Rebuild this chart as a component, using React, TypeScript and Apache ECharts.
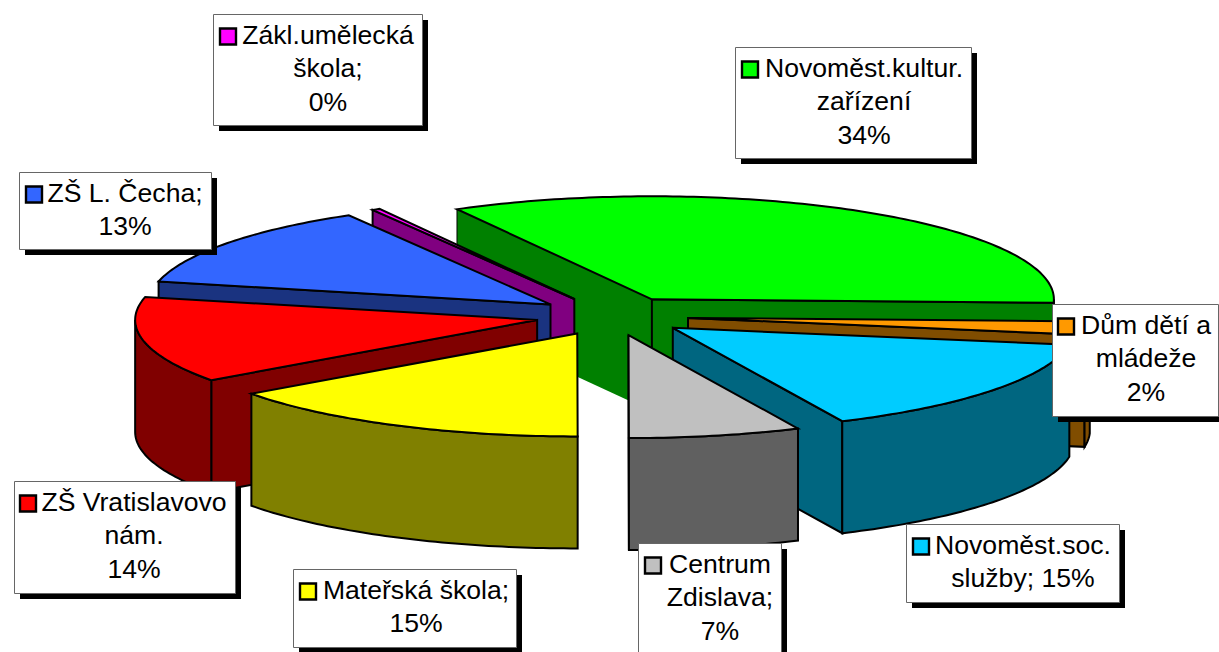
import React, { useEffect, useRef } from "react";
import * as echarts from "echarts";

const names = ["Novoměst.kultur.", "Dům dětí a mládeže", "Novoměst.soc. služby", "Centrum Zdislava", "Mateřská škola", "ZŠ Vratislavovo nám.", "ZŠ L. Čecha", "Zákl.umělecká škola"];
const values = [33.6, 2.08, 15.45, 6.91, 15.06, 13.53, 13.06, 0.31];
const topColors = ["#00FF00", "#FF9900", "#00CCFF", "#C0C0C0", "#FFFF00", "#FF0000", "#3366FF", "#FF00FF"];
const sideColors = ["#008000", "#804D00", "#006680", "#606060", "#808000", "#800000", "#1A3380", "#800080"];
const labelTexts = [
  "Novoměst.kultur.\nzařízení\n34%",
  "Dům dětí a\nmládeže\n2%",
  "Novoměst.soc.\nslužby; 15%",
  "Centrum\nZdislava;\n7%",
  "Mateřská škola;\n15%",
  "ZŠ Vratislavovo\nnám.\n14%",
  "ZŠ L. Čecha;\n13%",
  "Zákl.umělecká\nškola;\n0%",
];
// Painter's order of the slices, back to front
const drawOrder = [0, 1, 2, 7, 6, 5, 4, 3];
// box x, y, w, h, text centre x, swatch x
const labelBoxes = [
  [735, 47, 236, 111, 864, 741],
  [1052, 304, 166, 112, 1146, 1057],
  [906, 524, 213, 78, 1023, 912],
  [638, 543, 143, 112, 720, 644],
  [293, 569, 223, 78, 416, 299],
  [14, 481, 221, 112, 134, 19],
  [19, 172, 192, 77, 125, 25],
  [213, 14, 209, 111, 328, 219],
];

const PIE = { cx: 612, cy: 316, rx: 402, ry: 103, depth: 112, explode: 0.19, startAngle: 331 };
const FONT = '"Liberation Sans", Arial, sans-serif';

const rad = (d: number) => (d * Math.PI) / 180;
const total = values.reduce((a, b) => a + b, 0);
const spans = (() => {
  let a = PIE.startAngle;
  return values.map((v) => {
    const s = a;
    a += (v / total) * 360;
    return [s, a];
  });
})();

function pointAt(ax: number, ay: number, deg: number, dz = 0) {
  return [ax + PIE.rx * Math.sin(rad(deg)), ay - PIE.ry * Math.cos(rad(deg)) + dz];
}

function arc(ax: number, ay: number, from: number, to: number, dz = 0) {
  const n = Math.max(2, Math.ceil(Math.abs(to - from)));
  const pts: number[][] = [];
  for (let i = 0; i <= n; i++) pts.push(pointAt(ax, ay, from + ((to - from) * i) / n, dz));
  return pts;
}

function renderSlice(params: any) {
  const idx = drawOrder[params.dataIndex];
  const [start, end] = spans[idx];
  const mid = (start + end) / 2;
  const ax = PIE.cx + PIE.explode * PIE.rx * Math.sin(rad(mid));
  const ay = PIE.cy - PIE.explode * PIE.ry * Math.cos(rad(mid));
  const d = PIE.depth;
  const top = { fill: topColors[idx], stroke: "#000", lineWidth: 2, lineJoin: "miter" };
  const side = { fill: sideColors[idx], stroke: "#000", lineWidth: 2, lineJoin: "miter" };
  const poly = (points: number[][], style: any) => ({ type: "polygon", shape: { points }, style });
  const children: any[] = [];
  const s = ((start % 360) + 360) % 360;
  const e = ((end % 360) + 360) % 360;
  const cut = (deg: number, bare: boolean) => {
    const p = pointAt(ax, ay, deg);
    const pts = [[ax, ay], p, [p[0], p[1] + d], [ax, ay + d]];
    if (bare) {
      // the big back slice has no dark outline under its cut face
      children.push(poly(pts, { fill: sideColors[idx], stroke: null }));
      children.push({ type: "polyline", shape: { points: [p, [p[0], p[1] + d]] }, style: { stroke: "#000", lineWidth: 1, fill: null } });
    } else {
      children.push(poly(pts, side));
    }
  };
  if (Math.sin(rad(s)) < 0) cut(s, idx === 0);
  if (Math.sin(rad(e)) > 0) cut(e, false);
  // outer wall: only the part of the rim that faces the viewer
  const wall = (a: number, b: number) => {
    if (b > a) children.push(poly([...arc(ax, ay, a, b), ...arc(ax, ay, b, a, d)], side));
  };
  wall(Math.max(start, 90), Math.min(end, 270));
  wall(Math.max(start, 450), Math.min(end, 630));
  children.push(poly([[ax, ay], ...arc(ax, ay, start, end)], top));
  return { type: "group", children };
}

function labelElements() {
  const els: any[] = [];
  labelBoxes.forEach(([x, y, w, h, tx, sx], i) => {
    els.push({ type: "rect", z: 100, shape: { x: x + 6, y: y + 6, width: w, height: h }, style: { fill: "#000" } });
    els.push({ type: "rect", z: 101, shape: { x: x + 0.5, y: y + 0.5, width: w, height: h }, style: { fill: "#fff", stroke: "#666", lineWidth: 1 } });
    els.push({ type: "rect", z: 102, shape: { x: sx + 1, y: y + 14.5, width: 16, height: 16 }, style: { fill: topColors[i], stroke: "#000", lineWidth: 2.4 } });
    els.push({
      type: "text",
      z: 102,
      x: tx,
      y: y + 4,
      style: { text: labelTexts[i], font: `26.6px ${FONT}`, fill: "#000", textAlign: "center", textVerticalAlign: "top", lineHeight: 33.5 },
    });
  });
  return els;
}

export default function App() {
  const ref = useRef<HTMLDivElement>(null);
  useEffect(() => {
    document.body.style.margin = "0";
    document.body.style.overflow = "hidden";
    const chart = echarts.init(ref.current!, null, { renderer: "svg" });
    chart.setOption({
      animation: false,
      backgroundColor: "#fff",
      series: [
        {
          type: "custom",
          coordinateSystem: "none",
          silent: true,
          data: drawOrder.map((i) => ({ name: names[i], value: values[i] })),
          renderItem: renderSlice,
        },
      ],
      graphic: { elements: labelElements() },
    });
    return () => chart.dispose();
  }, []);
  return <div ref={ref} style={{ width: 1219, height: 652 }} />;
}
